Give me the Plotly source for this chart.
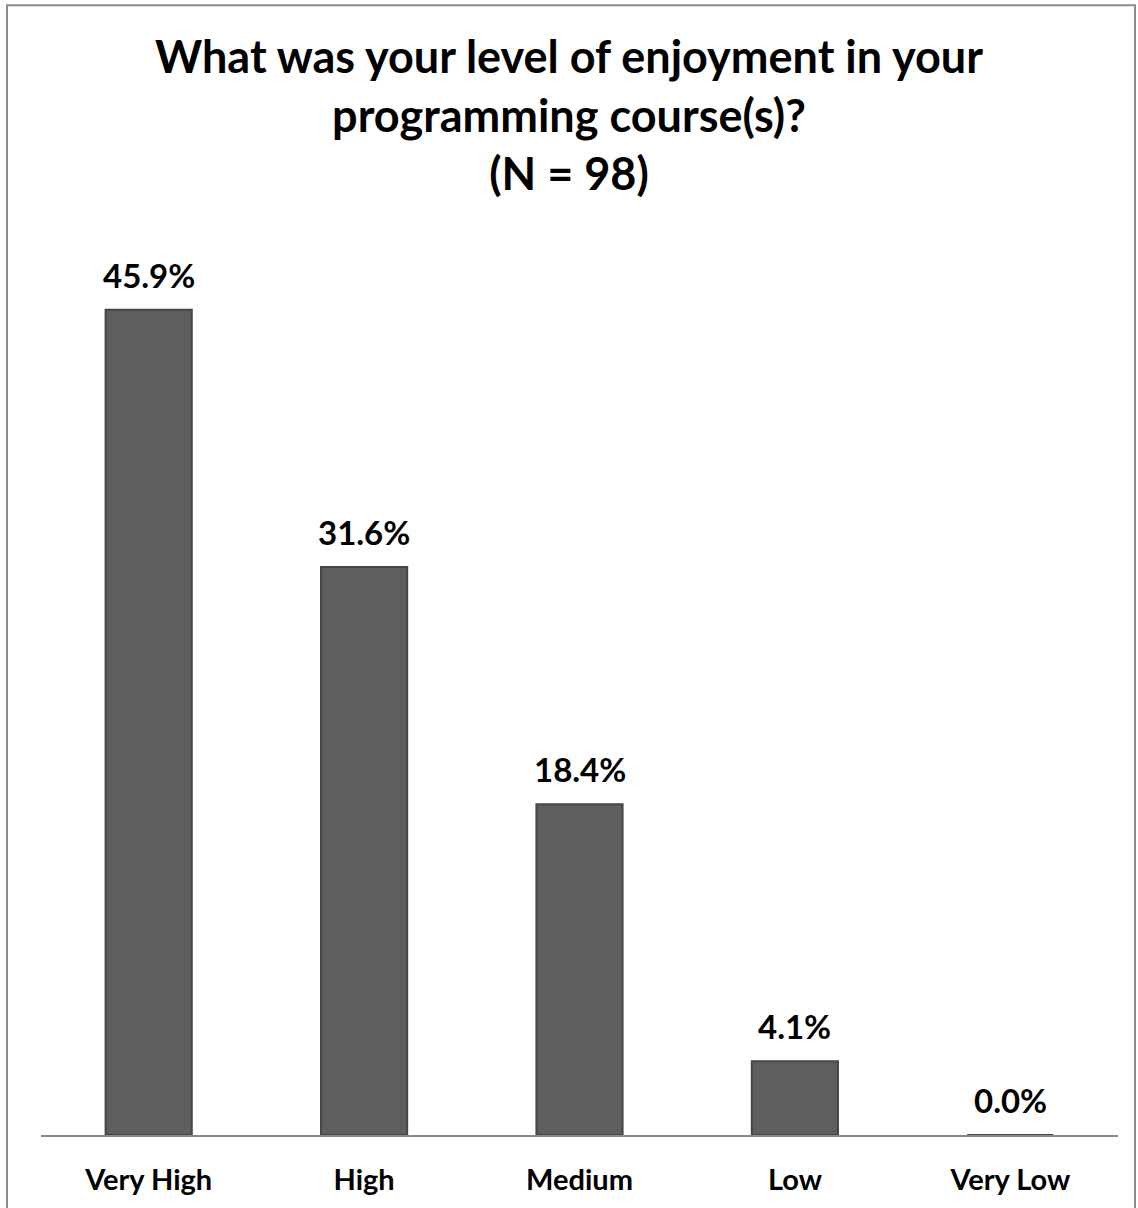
import plotly.graph_objects as go

categories = ["Very High", "High", "Medium", "Low", "Very Low"]
values = [45.9, 31.6, 18.4, 4.1, 0.0]
labels = [f"{v:.1f}%" for v in values]

title_text = "What was your level of enjoyment in your<br>programming course(s)?<br>(N = 98)"

W, H = 1138, 1208
ml, mr, mt, mb = 41, 20, 260, 69
FONT = "Lato, Open Sans, sans-serif"

fig = go.Figure()
fig.add_trace(go.Bar(
    x=categories, y=values,
    marker=dict(color="#5e5e5e", line=dict(color="#464646", width=2)),
    width=0.40, hoverinfo="x+y",
))
for c, v, t in zip(categories, values, labels):
    fig.add_annotation(x=c, y=v, text=t, showarrow=False, yanchor="bottom", yshift=13,
                       font=dict(family=FONT, size=33, color="#000000", weight="bold"))

pw = W - ml - mr
ph = H - mt - mb
fig.update_layout(
    width=W, height=H,
    margin=dict(l=ml, r=mr, t=mt, b=mb),
    paper_bgcolor="white", plot_bgcolor="white",
    showlegend=False,
    title=dict(text=title_text, x=0.5, xanchor="center", xref="container",
               y=1 - 73 / H, yanchor="top", yref="container",
               font=dict(family=FONT, size=45, color="#000000", weight="bold")),
    xaxis=dict(showline=True, linecolor="#8a8a8a", linewidth=2, ticks="", showgrid=False,
               tickfont=dict(family=FONT, size=29, color="#000000", weight="bold"),
               ticklabelstandoff=18),
    yaxis=dict(visible=False, range=[0, 48.67], showgrid=False, zeroline=False),
)
# outer chart border
fig.add_shape(type="rect", xref="paper", yref="paper",
              x0=(7 - ml) / pw, x1=(1135 - ml) / pw,
              y0=-(mb + 10) / ph, y1=(H - mb - 4) / ph,
              line=dict(color="#8c8c8c", width=2), fillcolor="rgba(0,0,0,0)", layer="below")

fig.write_html("out.html", config={"displayModeBar": False},
               post_script="document.body.style.margin='0';document.body.style.overflow='hidden';")
